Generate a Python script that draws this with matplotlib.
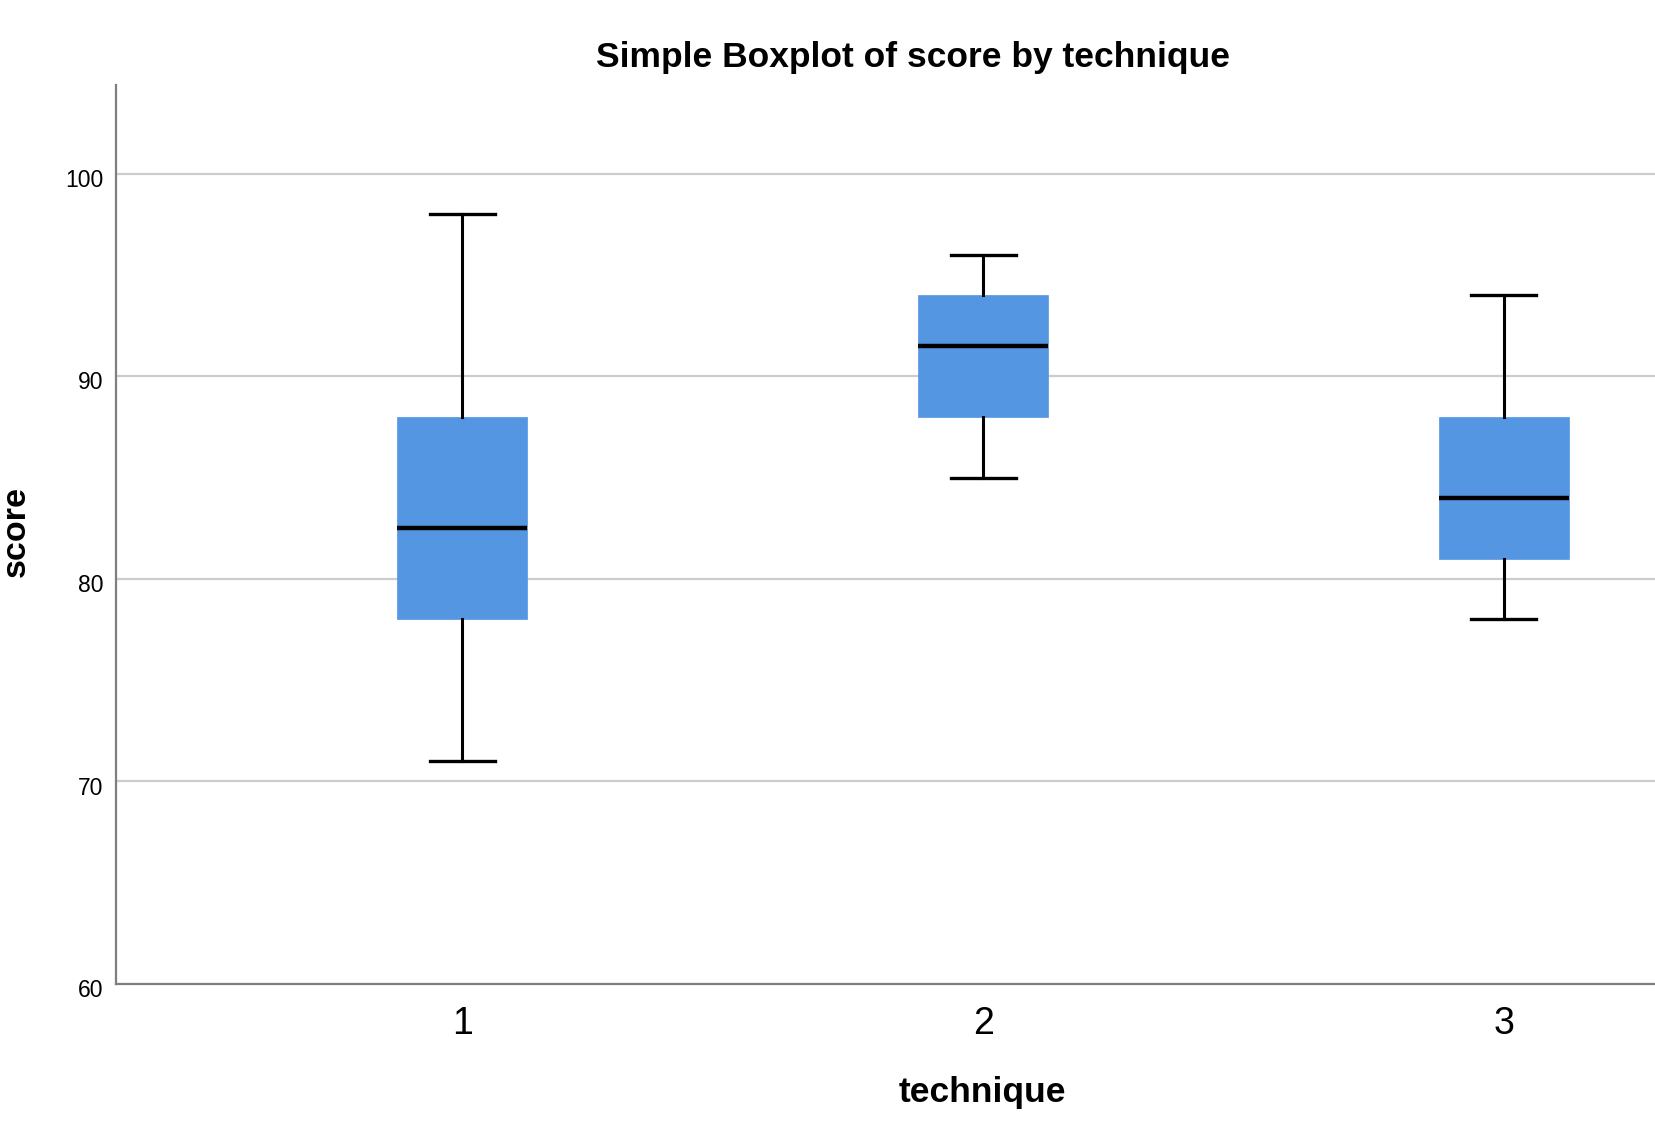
import matplotlib.pyplot as plt
from matplotlib.transforms import ScaledTranslation

plt.rcParams['font.family'] = ['Liberation Sans', 'DejaVu Sans']

# values
techniques = ["1", "2", "3"]
whisker_low = [71, 85, 78]
q1 = [78, 88, 81]
median = [82.5, 91.5, 84]
q3 = [88, 94, 88]
whisker_high = [98, 96, 94]
yticks = [60, 70, 80, 90, 100]

fig = plt.figure(figsize=(16.56, 11.21), dpi=100)
ax = fig.add_axes([0.070, 0.1222, 0.930, 0.8024])

stats = []
for i, name in enumerate(techniques):
    stats.append({"label": name, "whislo": whisker_low[i], "q1": q1[i],
                  "med": median[i], "q3": q3[i], "whishi": whisker_high[i],
                  "fliers": []})

ax.bxp(stats, positions=[1, 2, 3], widths=0.25, patch_artist=True,
       showfliers=False,
       boxprops=dict(facecolor="#5596e3", edgecolor="#5596e3", linewidth=0.5),
       medianprops=dict(color="black", linewidth=3.2),
       whiskerprops=dict(color="black", linewidth=2.2),
       capprops=dict(color="black", linewidth=2.4),
       capwidths=0.125, zorder=3)

ax.set_xlim(0.335, 3.292)
ax.set_ylim(60, 104.4)
ax.set_yticks(yticks)
ax.yaxis.grid(True, color="#cccccc", linewidth=1.6, zorder=0)
ax.set_axisbelow(True)

for side in ["top", "right"]:
    ax.spines[side].set_visible(False)
for side in ["left", "bottom"]:
    ax.spines[side].set_color("#7f7f7f")
    ax.spines[side].set_linewidth(1.6)

ax.tick_params(axis="y", length=0, pad=9, labelsize=16.5)
ax.tick_params(axis="x", length=0, pad=16, labelsize=27)
# y labels sit a little under their grid lines
for lab in ax.get_yticklabels():
    lab.set_transform(lab.get_transform() + ScaledTranslation(0, -3 / 72, fig.dpi_scale_trans))

ax.set_xlabel("technique", fontsize=25.5, fontweight="bold")
ax.xaxis.label.set_va("baseline")
ax.xaxis.set_label_coords(0.5625, -0.131)

ax.set_ylabel("score", fontsize=24.5, fontweight="bold")
ax.yaxis.label.set_va("center")
ax.yaxis.set_label_coords(-0.0646, 0.503)

fig.text(0.5514, 0.940, "Simple Boxplot of score by technique", fontsize=25.5,
         fontweight="bold", ha="center", va="baseline")

fig.savefig("out.png", dpi=100)
